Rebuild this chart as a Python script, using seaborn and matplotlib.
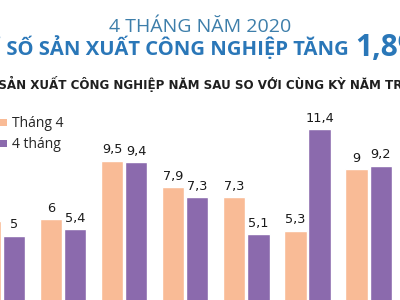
import matplotlib
matplotlib.use("Agg")
import matplotlib.pyplot as plt
import seaborn as sns
import pandas as pd
from matplotlib.patches import Patch

# ---- data ----
years = ["2013", "2014", "2015", "2016", "2017", "2018", "2019"]
thang_4 = [5.9, 6, 9.5, 7.9, 7.3, 5.3, 9]
bon_thang = [5, 5.4, 9.4, 7.3, 5.1, 11.4, 9.2]
series = ["Tháng 4", "4 tháng"]
colors = ["#f9bb96", "#8b6aad"]

title1 = "4 THÁNG NĂM 2020"
title2_prefix = "CHỈ "
title2 = "CHỈ SỐ SẢN XUẤT CÔNG NGHIỆP TĂNG"
title2_num = "1,8%"
title3_prefix = "CHỈ SỐ "
title3 = "CHỈ SỐ SẢN XUẤT CÔNG NGHIỆP NĂM SAU SO VỚI CÙNG KỲ NĂM TRƯỚC (%)"

df = pd.DataFrame({
    "Năm": years * 2,
    "Giá trị": thang_4 + bon_thang,
    "Chỉ tiêu": [series[0]] * len(years) + [series[1]] * len(years),
})

sns.set_theme(style="white")
plt.rcParams["font.family"] = ["DejaVu Sans"]

W, H = 400, 300
fig = plt.figure(figsize=(4, 3), dpi=100)
fig.patch.set_facecolor("white")
ax = fig.add_axes([0, 0, 1, 200 / 300])
sns.barplot(data=df, x="Năm", y="Giá trị", hue="Chỉ tiêu", hue_order=series,
            palette=colors, saturation=1, width=0.79, gap=0.08,
            errorbar=None, ax=ax, legend=False)

step = 61.1
ax.set_xlim(-2 / step, (W - 2) / step)
ax.set_ylim(1.14, 1.14 + 200 / 16.67)
ax.axis("off")

for cont in ax.containers:
    labels = [f"{v:g}".replace(".", ",") for v in cont.datavalues]
    ax.bar_label(cont, labels=labels, padding=3, fontsize=9.3, color="#1a1a1a")

handles = [Patch(facecolor=c, edgecolor="none") for c in colors]
ax.legend(handles, series, loc="upper left", bbox_to_anchor=(-7 / W, 1 - 116 / H),
          bbox_transform=fig.transFigure, frameon=False,
          handlelength=1.0, handleheight=0.4, handletextpad=0.35,
          labelspacing=0.45, borderpad=0, borderaxespad=0,
          prop={"family": ["Open Sans", "DejaVu Sans"], "size": 10})

renderer = fig.canvas.get_renderer()


def width_px(s, **kw):
    t = fig.text(0, 0, s, **kw)
    w = t.get_window_extent(renderer).width
    t.remove()
    return w


def prefix_px(prefix, nxt, **kw):
    # width of prefix including trailing space
    return width_px(prefix + nxt, **kw) - width_px(nxt, **kw)


# title line 1
fig.text(0.5, 1 - 32 / H, title1, ha="center", va="baseline", fontsize=14,
         color="#3d7eaa", family=["Open Sans", "DejaVu Sans"])

# title line 2 (clipped at left)
kw2 = dict(fontsize=14.6, fontweight="bold", color="#2a77b8",
           family=["Open Sans", "DejaVu Sans"])
pw = prefix_px(title2_prefix, "S", **kw2)
fig.text((6 - pw) / W, 1 - 55 / H, title2, ha="left", va="baseline", **kw2)
fig.text(355 / W, 1 - 56 / H, title2_num, ha="left", va="baseline",
         fontsize=21.5, fontweight="bold", color="#2a77b8",
         family=["Open Sans", "DejaVu Sans"])

# subtitle line 3 (clipped at left)
kw3 = dict(fontsize=8.6, fontweight="bold", color="#1f1f1f",
           family=["DejaVu Sans"])
pw3 = prefix_px(title3_prefix, "S", **kw3)
fig.text((-2 - pw3) / W, 1 - 89 / H, title3, ha="left", va="baseline", **kw3)

fig.savefig("out.png", dpi=100)
